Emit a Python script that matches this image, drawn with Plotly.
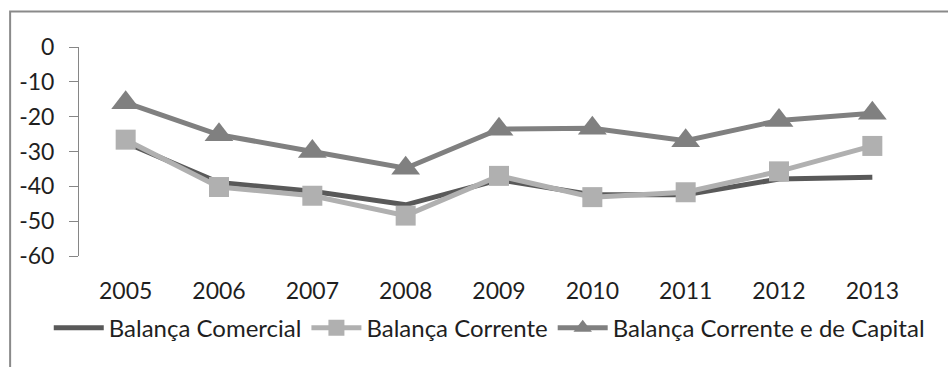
import plotly.graph_objects as go

# Saldos anuais (mil milhões), 2005-2013
anos = ["2005", "2006", "2007", "2008", "2009", "2010", "2011", "2012", "2013"]
balanca_comercial = [-27.5, -38.9, -41.4, -45.3, -38.1, -42.4, -42.4, -37.9, -37.4]
balanca_corrente = [-26.6, -40.2, -42.7, -48.4, -37.0, -43.1, -41.7, -35.7, -28.4]
balanca_corrente_capital = [-16.0, -25.2, -30.0, -34.8, -23.6, -23.3, -26.9, -21.1, -19.0]
y_ticks = [0, -10, -20, -30, -40, -50, -60]

FONT = "Lato"
TEXT = "#1f1f1f"
AXIS = "#868686"

fig = go.Figure()

fig.add_trace(go.Scatter(
    x=anos, y=balanca_comercial, name="Balança Comercial",
    mode="lines", line=dict(color="#595959", width=5),
))
fig.add_trace(go.Scatter(
    x=anos, y=balanca_corrente, name="Balança Corrente",
    mode="lines+markers", line=dict(color="#b0b0b0", width=5),
    marker=dict(symbol="square", size=20, color="#b0b0b0", line=dict(width=0)),
))
fig.add_trace(go.Scatter(
    x=anos, y=balanca_corrente_capital, name="Balança Corrente e de Capital",
    mode="lines+markers", line=dict(color="#808080", width=5),
    marker=dict(symbol="triangle-up", size=25, color="#808080", line=dict(width=0)),
))

n = len(anos)
fronteiras = [i - 0.5 for i in range(n + 1)]

fig.update_layout(
    width=948, height=367,
    margin=dict(l=79, r=29, t=47, b=111),
    paper_bgcolor="white", plot_bgcolor="white",
    font=dict(family=FONT, size=23, color=TEXT),
    showlegend=True,
    legend=dict(
        orientation="h", x=-0.036, xanchor="left", y=-0.237, yanchor="top",
        font=dict(family=FONT, size=24, color=TEXT),
        bgcolor="rgba(0,0,0,0)", itemsizing="trace", itemwidth=50,
        traceorder="normal",
    ),
    xaxis=dict(
        type="category", range=[-0.5, n - 0.5],
        showline=False, showgrid=False, zeroline=False, ticks="",
        ticklabelstandoff=19, tickfont=dict(family=FONT, size=23, color=TEXT),
    ),
    xaxis2=dict(
        overlaying="x", side="top", anchor="y", type="linear",
        range=[-0.5, n - 0.5], tickmode="array", tickvals=fronteiras,
        ticks="inside", ticklen=9, tickcolor=AXIS, tickwidth=1,
        showticklabels=False, showline=True, linecolor=AXIS, linewidth=1,
        showgrid=False, zeroline=False,
    ),
    yaxis=dict(
        range=[-60, 0], tickmode="array", tickvals=y_ticks,
        ticktext=[str(v) for v in y_ticks],
        ticks="outside", ticklen=9, tickcolor=AXIS, tickwidth=1,
        showline=True, linecolor=AXIS, linewidth=1,
        showgrid=False, zeroline=False, ticklabelstandoff=10,
        tickfont=dict(family=FONT, size=23, color=TEXT),
    ),
    shapes=[dict(
        type="rect", xref="paper", yref="paper",
        x0=-0.082, x1=1.2, y0=-0.7, y1=1.17,
        line=dict(color="#8a8a8a", width=2), fillcolor="rgba(0,0,0,0)",
        layer="below",
    )],
)

fig.write_html("out.html")
